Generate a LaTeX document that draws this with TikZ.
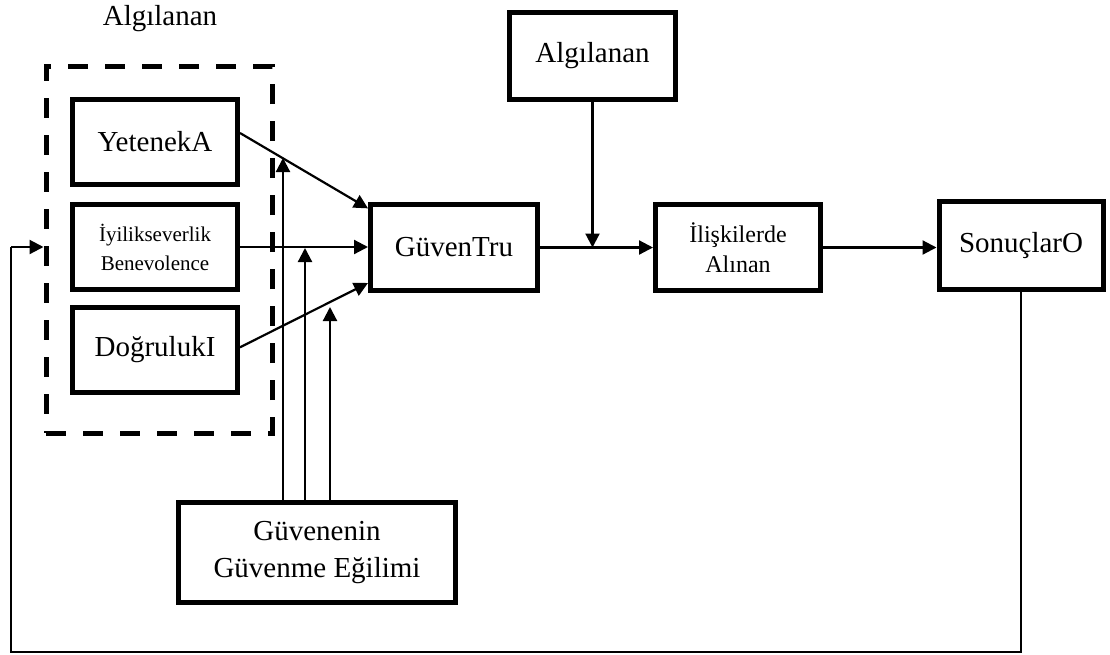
\documentclass[tikz,border=0pt]{standalone}
\usepackage{fontspec}
\setmainfont{Liberation Serif}
\usetikzlibrary{arrows.meta,calc}
\begin{document}
\begin{tikzpicture}[x=1pt,y=-1pt,
  box/.style={draw,line width=5pt,rectangle,inner sep=0pt,align=center},
  big/.style={font=\fontsize{29}{37}\selectfont},
  mid/.style={font=\fontsize{24}{30}\selectfont},
  small/.style={font=\fontsize{21}{29}\selectfont},
  conn/.style={line width=2.2pt,-{Triangle[length=14pt,width=14pt]}},
  plain/.style={line width=2.2pt},
  group/.style={draw,line width=5pt,dash pattern=on 20pt off 17pt,rectangle,inner sep=0pt}]
\useasboundingbox (0,0) rectangle (1110,654);

% perceived trustworthiness factors
\node[group,minimum width=226pt,minimum height=367pt] (D) at (159,249.5) {};
\node[big] (lbl) at (160,19) {Algılanan};
\node[box,big,minimum width=165pt,minimum height=85pt] (A) at (155,142) {YetenekA};
\node[box,small,minimum width=165pt,minimum height=85pt] (B) at (155,247) {İyilikseverlik\\Benevolence};
\node[box,big,minimum width=165pt,minimum height=85pt] (I) at (155,350) {DoğrulukI};

% main chain
\node[box,big,minimum width=167pt,minimum height=86pt] (T) at (454,247.5) {GüvenTru};
\node[box,big,minimum width=166pt,minimum height=87pt] (P) at (592.5,56) {Algılanan};
\node[box,mid,minimum width=165pt,minimum height=86pt] (R) at (738,247.5) {İlişkilerde\\Alınan};
\node[box,big,minimum width=164pt,minimum height=88pt] (O) at (1021,245.5) {SonuçlarO};
\node[box,big,minimum width=277pt,minimum height=100pt] (G) at (317,552.5) {Güvenenin\\Güvenme Eğilimi};

% factors into trust
\draw[conn] ($(A.north east)!0.4!(A.south east)$) -- ($(T.north west)!0.07!(T.south west)$);
\draw[conn] (B.east) -- (B.east -| T.west);
\draw[conn] ($(I.north east)!0.47!(I.south east)$) -- ($(T.north west)!0.89!(T.south west)$);

% propensity to trust (moderating arrows)
\coordinate (g1) at (283,158);
\coordinate (g2) at (305,248);
\coordinate (g3) at (330,307);
\draw[conn] (g1 |- G.north) -- (g1);
\draw[conn] (g2 |- G.north) -- (g2);
\draw[conn] (g3 |- G.north) -- (g3);

% trust -> risk taking, moderated by perceived risk
\coordinate (m) at (P.south |- T.east);
\draw[conn] (T.east) -- (R.west);
\draw[conn] (P.south) -- (m);
\draw[conn] (R.east) -- (R.east -| O.west);

% feedback loop
\coordinate (c1) at (O.south |- 0,652);
\coordinate (c2) at (11,652);
\coordinate (c3) at (11,247);
\draw[plain] (O.south) -- (c1) -- (c2) -- (c3);
\draw[conn] (c3) -- (c3 -| D.west);
\end{tikzpicture}
\end{document}
